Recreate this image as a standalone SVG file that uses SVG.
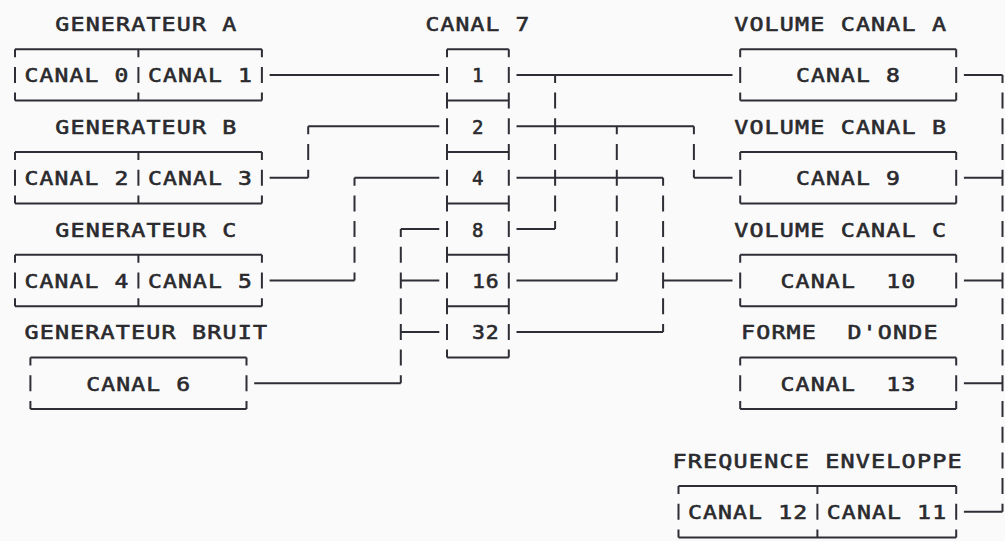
<svg xmlns="http://www.w3.org/2000/svg" width="1005" height="541" viewBox="0 0 1005 541">
<style>
.ln{stroke:#2e2e36;stroke-width:2;fill:none}
.vd{stroke-dasharray:16 9.7;stroke-dashoffset:8}
.t{font-family:"DejaVu Sans Mono","Liberation Mono",monospace;font-size:20px;letter-spacing:1px;fill:#2a2a2e;stroke:#2a2a2e;stroke-width:0.6px}
</style>
<rect width="1005" height="541" fill="#fafafa"/>

<g id="generateur-a">
<path class="ln" d="M15 49.2H261.9M15 100.6H261.9"/>
<path class="ln vd" d="M15 49.2V100.6M138.4 49.2V100.6M261.9 49.2V100.6"/>
<text class="t" x="55.3" y="31" textLength="182.2" lengthAdjust="spacingAndGlyphs">GENERATEUR A</text>
<text class="t" x="24.4" y="82.4" textLength="105" lengthAdjust="spacingAndGlyphs">CANAL 0</text>
<text class="t" x="147.9" y="82.4" textLength="105" lengthAdjust="spacingAndGlyphs">CANAL 1</text>
</g>

<g id="generateur-b">
<path class="ln" d="M15 152H261.9M15 203.4H261.9"/>
<path class="ln vd" d="M15 152V203.4M138.4 152V203.4M261.9 152V203.4"/>
<text class="t" x="55.3" y="133.8" textLength="182.2" lengthAdjust="spacingAndGlyphs">GENERATEUR B</text>
<text class="t" x="24.4" y="185.2" textLength="105" lengthAdjust="spacingAndGlyphs">CANAL 2</text>
<text class="t" x="147.9" y="185.2" textLength="105" lengthAdjust="spacingAndGlyphs">CANAL 3</text>
</g>

<g id="generateur-c">
<path class="ln" d="M15 254.8H261.9M15 306.2H261.9"/>
<path class="ln vd" d="M15 254.8V306.2M138.4 254.8V306.2M261.9 254.8V306.2"/>
<text class="t" x="55.3" y="236.6" textLength="182.2" lengthAdjust="spacingAndGlyphs">GENERATEUR C</text>
<text class="t" x="24.4" y="288" textLength="105" lengthAdjust="spacingAndGlyphs">CANAL 4</text>
<text class="t" x="147.9" y="288" textLength="105" lengthAdjust="spacingAndGlyphs">CANAL 5</text>
</g>

<g id="generateur-bruit">
<path class="ln" d="M30.4 357.6H246.5M30.4 409H246.5"/>
<path class="ln vd" d="M30.4 357.6V409M246.5 357.6V409"/>
<text class="t" x="24.4" y="339.4" textLength="243.9" lengthAdjust="spacingAndGlyphs">GENERATEUR BRUIT</text>
<text class="t" x="86.2" y="390.8" textLength="105" lengthAdjust="spacingAndGlyphs">CANAL 6</text>
</g>

<g id="canal-7">
<path class="ln" d="M447 49.2H508.8M447 100.6H508.8M447 152H508.8M447 203.4H508.8M447 254.8H508.8M447 306.2H508.8M447 357.6H508.8"/>
<path class="ln vd" d="M447 49.2V357.6M508.8 49.2V357.6"/>
<text class="t" x="425.6" y="31" textLength="105" lengthAdjust="spacingAndGlyphs">CANAL 7</text>
<text class="t" x="471.9" y="82.4" textLength="12.4" lengthAdjust="spacingAndGlyphs">1</text>
<text class="t" x="471.9" y="133.8" textLength="12.4" lengthAdjust="spacingAndGlyphs">2</text>
<text class="t" x="471.9" y="185.2" textLength="12.4" lengthAdjust="spacingAndGlyphs">4</text>
<text class="t" x="471.9" y="236.6" textLength="12.4" lengthAdjust="spacingAndGlyphs">8</text>
<text class="t" x="471.9" y="288" textLength="27.9" lengthAdjust="spacingAndGlyphs">16</text>
<text class="t" x="471.9" y="339.4" textLength="27.9" lengthAdjust="spacingAndGlyphs">32</text>
</g>

<g id="volume-canal-a">
<path class="ln" d="M740.2 49.2H956.2M740.2 100.6H956.2"/>
<path class="ln vd" d="M740.2 49.2V100.6M956.2 49.2V100.6"/>
<text class="t" x="734.2" y="31" textLength="213" lengthAdjust="spacingAndGlyphs">VOLUME CANAL A</text>
<text class="t" x="795.9" y="82.4" textLength="105" lengthAdjust="spacingAndGlyphs">CANAL 8</text>
</g>

<g id="volume-canal-b">
<path class="ln" d="M740.2 152H956.2M740.2 203.4H956.2"/>
<path class="ln vd" d="M740.2 152V203.4M956.2 152V203.4"/>
<text class="t" x="734.2" y="133.8" textLength="213" lengthAdjust="spacingAndGlyphs">VOLUME CANAL B</text>
<text class="t" x="795.9" y="185.2" textLength="105" lengthAdjust="spacingAndGlyphs">CANAL 9</text>
</g>

<g id="volume-canal-c">
<path class="ln" d="M740.2 254.8H956.2M740.2 306.2H956.2"/>
<path class="ln vd" d="M740.2 254.8V306.2M956.2 254.8V306.2"/>
<text class="t" x="734.2" y="236.6" textLength="213" lengthAdjust="spacingAndGlyphs">VOLUME CANAL C</text>
<text class="t" x="780.5" y="288" xml:space="preserve" textLength="135.9" lengthAdjust="spacingAndGlyphs">CANAL  10</text>
</g>

<g id="forme-onde">
<path class="ln" d="M740.2 357.6H956.2M740.2 409H956.2"/>
<path class="ln vd" d="M740.2 357.6V409M956.2 357.6V409"/>
<text class="t" x="741" y="339.4" xml:space="preserve" textLength="197.6" lengthAdjust="spacingAndGlyphs">FORME  D'ONDE</text>
<text class="t" x="780.5" y="390.8" xml:space="preserve" textLength="135.9" lengthAdjust="spacingAndGlyphs">CANAL  13</text>
</g>

<g id="frequence-enveloppe">
<path class="ln" d="M678.5 486.1H956.2M678.5 537.5H956.2"/>
<path class="ln vd" d="M678.5 486.1V537.5M817.4 486.1V537.5M956.2 486.1V537.5"/>
<text class="t" x="672.5" y="467.9" textLength="290.2" lengthAdjust="spacingAndGlyphs">FREQUENCE ENVELOPPE</text>
<text class="t" x="687.9" y="519.3" textLength="120.4" lengthAdjust="spacingAndGlyphs">CANAL 12</text>
<text class="t" x="826.8" y="519.3" textLength="120.4" lengthAdjust="spacingAndGlyphs">CANAL 11</text>
</g>

<g id="connectors">
<path class="ln" d="M269.6 74.9H439.3"/>
<path class="ln" d="M269.6 177.7H308.2M308.2 126.3H439.3"/>
<path class="ln vd" d="M308.2 126.3V177.7"/>
<path class="ln" d="M269.6 280.5H354.5M354.5 177.7H439.3"/>
<path class="ln vd" d="M354.5 177.7V280.5"/>
<path class="ln" d="M254.2 383.3H400.8M400.8 229.1H439.3M400.8 280.5H439.3M400.8 331.9H439.3"/>
<path class="ln vd" d="M400.8 229.1V383.3"/>
<path class="ln" d="M516.5 74.9H732.5M516.5 229.1H555.1"/>
<path class="ln vd" d="M555.1 74.9V229.1"/>
<path class="ln" d="M516.5 126.3H693.9M693.9 177.7H732.5M516.5 280.5H616.8"/>
<path class="ln vd" d="M693.9 126.3V177.7M616.8 126.3V280.5"/>
<path class="ln" d="M516.5 177.7H663.1M663.1 280.5H732.5M516.5 331.9H663.1"/>
<path class="ln vd" d="M663.1 177.7V331.9"/>
<path class="ln" d="M963.9 74.9H1002.5M963.9 177.7H1002.5M963.9 280.5H1002.5M963.9 383.3H1002.5M963.9 511.8H1002.5"/>
<path class="ln vd" d="M1002.5 74.9V511.8"/>
</g>
</svg>
